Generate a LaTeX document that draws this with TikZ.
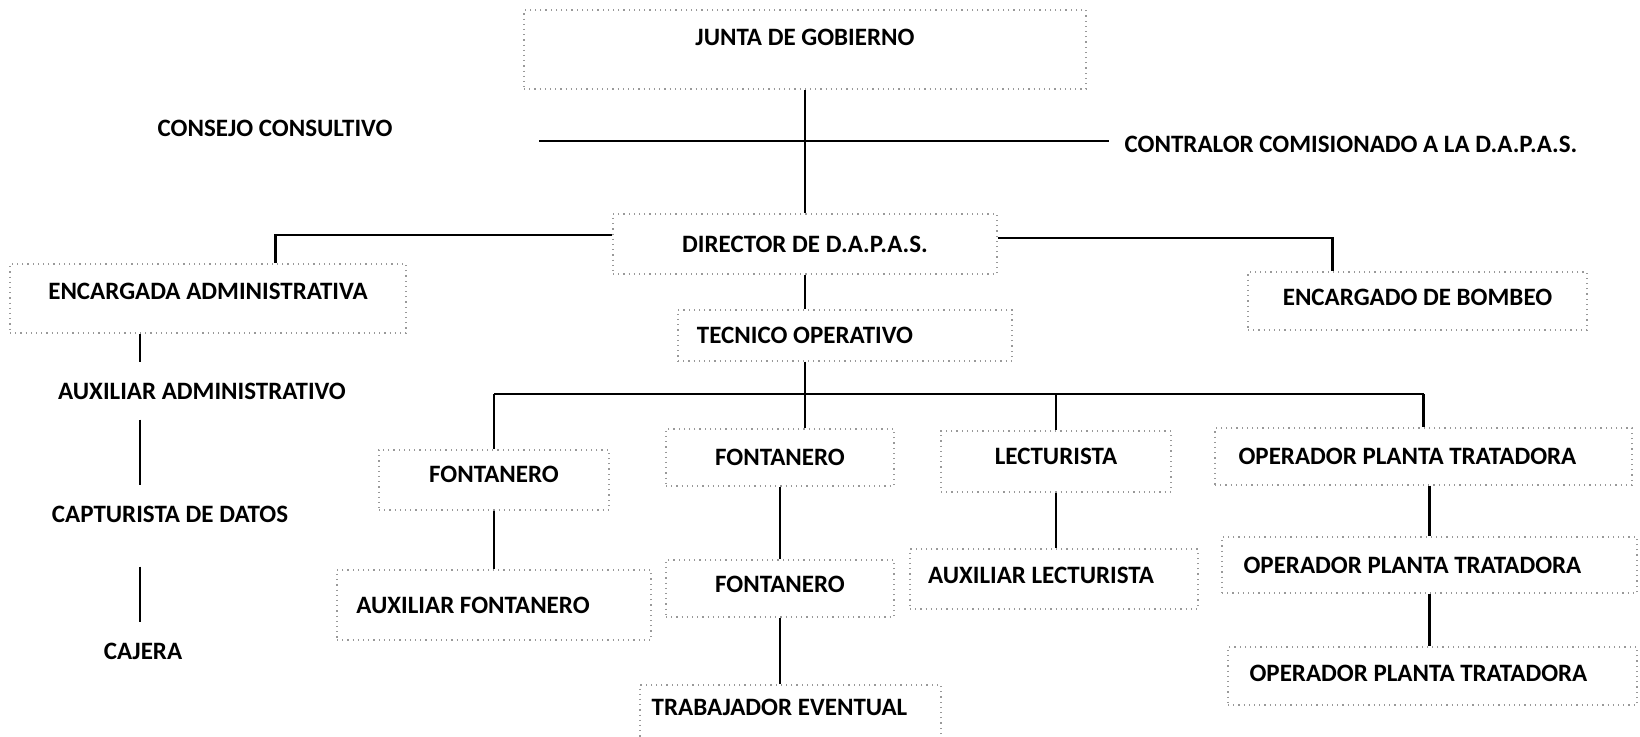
\documentclass[tikz,border=0pt]{standalone}
\usepackage{fontspec}
\setmainfont{Carlito}
\usetikzlibrary{calc,positioning}

\begin{document}
\begin{tikzpicture}[x=0.5pt,y=-0.5pt,
  box/.style={draw=black!40,dotted,line width=0.6pt,inner sep=0pt,font=\bfseries\fontsize{12.5}{14}\selectfont},
  lbl/.style={inner xsep=0pt,inner ysep=10pt,font=\bfseries\fontsize{12.5}{14}\selectfont},
  link/.style={line width=1.1pt},
  pad/.style={execute at end node={\hspace*{#1}}}]
  \useasboundingbox (0,0) rectangle (1640,737);

  \node[box,minimum width=281pt,minimum height=39.5pt,text depth=12.5pt] (junta) at (805,49.5) {JUNTA DE GOBIERNO};
  \node[lbl] (consejo) at (275,128) {CONSEJO CONSULTIVO};
  \node[lbl] (contralor) at (1351,144) {CONTRALOR COMISIONADO A LA D.A.P.A.S.};
  \coordinate (consL) at (539,141);
  \coordinate (contR) at (1109,141);

  \node[box,minimum width=192pt,minimum height=30pt] (dir) at (805,244) {DIRECTOR DE D.A.P.A.S.};
  \node[box,minimum width=198pt,minimum height=34.5pt,text depth=7.5pt] (enc) at (208,298.5) {ENCARGADA ADMINISTRATIVA};
  \node[box,minimum width=169.5pt,minimum height=29pt,text depth=4pt] (bom) at (1417.5,301) {ENCARGADO DE BOMBEO};
  \node[box,minimum width=167pt,minimum height=25.5pt,pad=40pt] (tec) at (845,335.5) {TECNICO OPERATIVO};

  \coordinate (colA) at (140,0);
  \node[lbl] (auxadm) at (202,391) {AUXILIAR ADMINISTRATIVO};
  \node[lbl] (capt) at (170,514) {CAPTURISTA DE DATOS};
  \node[lbl] (cajera) at (143,651) {CAJERA};

  \coordinate (bus) at (805,394);
  \node[box,minimum width=115pt,minimum height=30pt,text depth=6pt] (fon1) at (494,480) {FONTANERO};
  \node[box,minimum width=114pt,minimum height=28.5pt] (fon2) at (780,457.5) {FONTANERO};
  \node[box,minimum width=115pt,minimum height=30.5pt,text depth=5pt] (lec) at (1056,461.5) {LECTURISTA};
  \node[box,minimum width=208.5pt,minimum height=28.5pt,pad=16pt] (op1) at (1423.5,456.5) {OPERADOR PLANTA TRATADORA};

  \node[box,minimum width=157pt,minimum height=35pt,pad=21pt] (auxfon) at (494,605) {AUXILIAR FONTANERO};
  \node[box,minimum width=114pt,minimum height=28.5pt,text depth=4pt] (fon3) at (780,588.5) {FONTANERO};
  \node[box,minimum width=144pt,minimum height=30pt,text depth=4pt,pad=13pt] (auxlec) at (1054,579) {AUXILIAR LECTURISTA};
  \node[box,minimum width=207.5pt,minimum height=28pt,pad=17pt] (op2) at (1429.5,565) {OPERADOR PLANTA TRATADORA};
  \node[box,minimum width=204.5pt,minimum height=29pt,text depth=3pt,pad=14pt] (op3) at (1432.5,676) {OPERADOR PLANTA TRATADORA};
  \node[box,minimum width=150.5pt,minimum height=30pt,text depth=8pt,pad=11pt] (trab) at (790.5,715) {TRABAJADOR EVENTUAL};

  \draw[link] (junta) -- (dir);
  \draw[link] (consL) -- (contR);
  \draw[link] ([yshift=4.5pt]dir.west) -| ($(enc.north west)!0.67!(enc.north east)$);
  \draw[link] ([yshift=3pt]dir.east) -| ($(bom.north west)!0.25!(bom.north east)$);
  \draw[link] (dir.south) -- (dir.south |- tec.north);
  \draw[link] (tec.south -| dir.south) -- (fon2.north -| dir.south);
  \draw[link] (fon1.north |- bus) -- (op1.north |- bus);
  \draw[link] (fon1.north |- bus) -- (fon1.north);
  \draw[link] (lec.north |- bus) -- (lec.north);
  \draw[link] (op1.north |- bus) -- (op1.north);
  \draw[link] (fon1) -- (auxfon);
  \draw[link] (fon2) -- (fon3);
  \draw[link] (fon3.south) -- (trab.north -| fon3.south);
  \draw[link] (lec.south) -- (auxlec.north -| lec.south);
  \draw[link] (op1.south -| op2.north) -- (op2.north);
  \draw[link] (op2.south) -- (op3.north -| op2.south);
  \draw[link] (enc.south -| colA) -- (auxadm.north -| colA);
  \draw[link] (auxadm.south -| colA) -- (capt.north -| colA);
  \draw[link,shorten <=12pt] (capt.south -| colA) -- (cajera.north -| colA);
\end{tikzpicture}
\end{document}
